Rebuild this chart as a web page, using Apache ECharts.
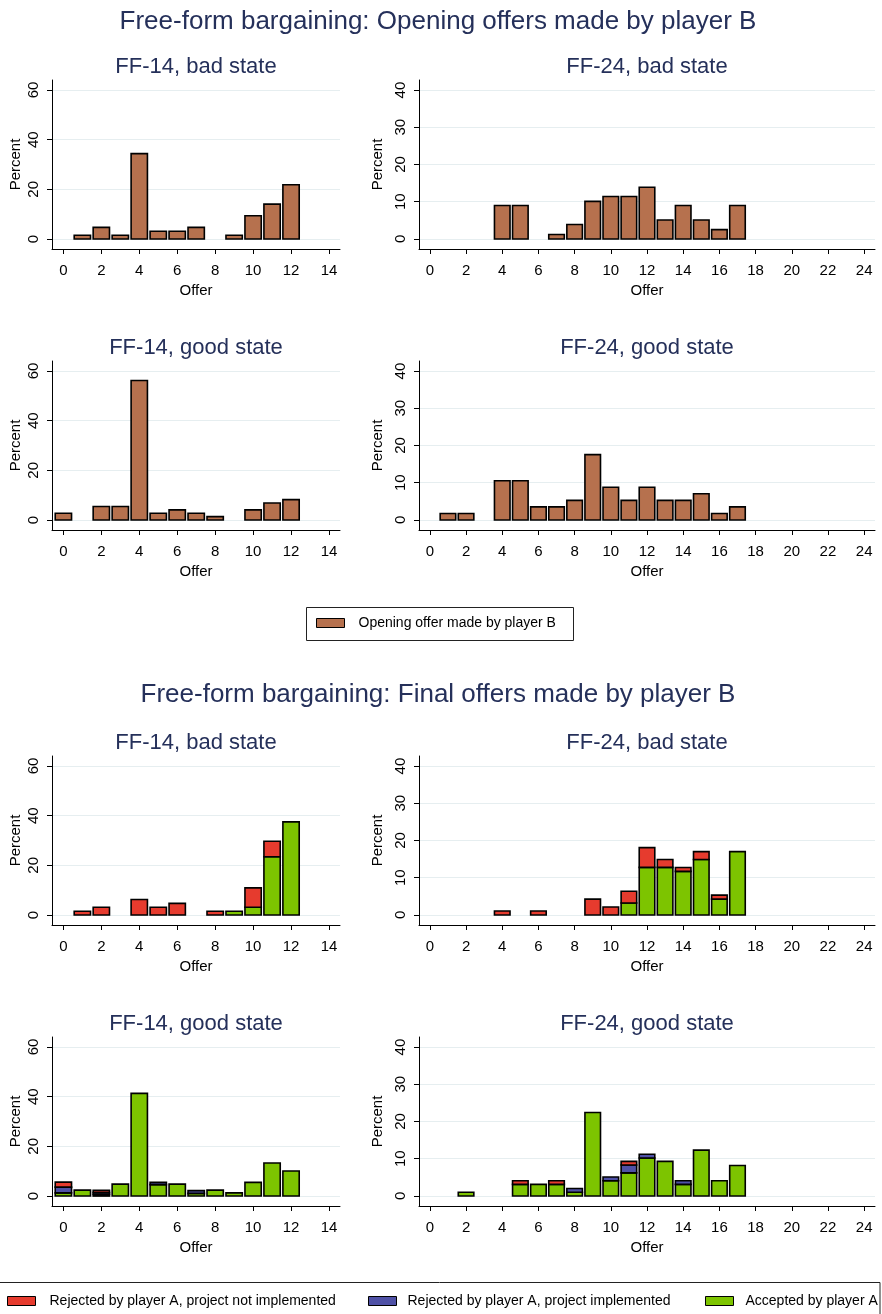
<!DOCTYPE html>
<html><head><meta charset="utf-8">
<script src="https://cdn.jsdelivr.net/npm/echarts@6/dist/echarts.min.js"></script>
<style>html,body{margin:0;padding:0;background:#fff}#c{width:882px;height:1314px}</style>
</head><body><div id="c"></div>
<script>
// ---------- data ----------
const mainTitles = ['Free-form bargaining: Opening offers made by player B', 'Free-form bargaining: Final offers made by player B'];
const panelTitles = ['FF-14, bad state', 'FF-24, bad state', 'FF-14, good state', 'FF-24, good state'];
const offers14 = [0,1,2,3,4,5,6,7,8,9,10,11,12];
const offers24 = [0,1,2,3,4,5,6,7,8,9,10,11,12,13,14,15,16,17];
const xTicks14 = [0,2,4,6,8,10,12,14];
const xTicks24 = [0,2,4,6,8,10,12,14,16,18,20,22,24];
const yTicks14 = [0,20,40,60];
const yTicks24 = [0,10,20,30,40];
const seriesNames = ['Opening offer made by player B', 'Rejected by player A, project not implemented', 'Rejected by player A, project implemented', 'Accepted by player A'];

// Opening offers (percent), indexed by offer
const open14Bad  = [0, 1.56, 4.69, 1.56, 34.38, 3.13, 3.13, 4.69, 0, 1.56, 9.38, 14.06, 21.88];
const open14Good = [2.74, 0, 5.48, 5.48, 56.16, 2.74, 4.11, 2.74, 1.37, 0, 4.11, 6.85, 8.22];
const open24Bad  = [0, 0, 0, 0, 9.0, 9.0, 0, 1.2, 3.9, 10.1, 11.4, 11.4, 13.9, 5.1, 9.0, 5.1, 2.5, 9.0];
const open24Good = [0, 1.75, 1.75, 0, 10.53, 10.53, 3.51, 3.51, 5.26, 17.54, 8.77, 5.26, 8.77, 5.26, 5.26, 7.02, 1.75, 3.51];

// Final offers (percent), indexed by offer
const acc14Bad     = [0, 0, 0, 0, 0, 0, 0, 0, 0, 1.56, 3.13, 23.44, 37.5];
const rejImp14Bad  = [0, 0, 0, 0, 0, 0, 0, 0, 0, 0, 0, 0, 0];
const rejNot14Bad  = [0, 1.56, 3.13, 0, 6.25, 3.13, 4.69, 0, 1.56, 0, 7.81, 6.25, 0];

const acc24Bad     = [0, 0, 0, 0, 0, 0, 0, 0, 0, 0, 0, 3.19, 12.77, 12.77, 11.70, 14.89, 4.26, 17.02];
const rejImp24Bad  = [0, 0, 0, 0, 0, 0, 0, 0, 0, 0, 0, 0, 0, 0, 0, 0, 0, 0];
const rejNot24Bad  = [0, 0, 0, 0, 1.06, 0, 1.06, 0, 0, 4.26, 2.13, 3.19, 5.32, 2.13, 1.06, 2.13, 1.06, 0];

const acc14Good    = [1.3, 2.4, 0.6, 4.8, 41.3, 4.6, 4.8, 1.1, 2.4, 1.3, 5.5, 13.3, 10.1];
const rejImp14Good = [2.3, 0, 0.8, 0, 0, 0.9, 0, 1.1, 0, 0, 0, 0, 0];
const rejNot14Good = [2.0, 0, 0.9, 0, 0, 0, 0, 0, 0, 0, 0, 0, 0];

const acc24Good    = [0, 0, 1.0, 0, 0, 3.1, 3.1, 3.1, 1.0, 22.4, 4.1, 6.2, 10.2, 9.3, 3.1, 12.3, 4.1, 8.2];
const rejImp24Good = [0, 0, 0, 0, 0, 0, 0, 0, 1.0, 0, 1.0, 2.1, 1.0, 0, 1.0, 0, 0, 0];
const rejNot24Good = [0, 0, 0, 0, 0, 1.0, 0, 1.0, 0, 0, 0, 1.0, 0, 0, 0, 0, 0, 0];

// ---------- styling ----------
const FONT = '"Liberation Sans", Arial, sans-serif';
const TITLE_COLOR = '#25305a';
const colors = {};
colors[seriesNames[0]] = '#b6714e';
colors[seriesNames[1]] = '#e63b2e';
colors[seriesNames[2]] = '#4f51a6';
colors[seriesNames[3]] = '#7dc400';

const rowTops = [80, 361, 756, 1037];
const GRID_H = 169;
const colLeft = [52, 419];
const colWidth = [288, 456];
const HALF = 0.43;

const panels = [
  {wide: false, stacks: [[seriesNames[0], open14Bad]]},
  {wide: true,  stacks: [[seriesNames[0], open24Bad]]},
  {wide: false, stacks: [[seriesNames[0], open14Good]]},
  {wide: true,  stacks: [[seriesNames[0], open24Good]]},
  {wide: false, stacks: [[seriesNames[3], acc14Bad], [seriesNames[2], rejImp14Bad], [seriesNames[1], rejNot14Bad]]},
  {wide: true,  stacks: [[seriesNames[3], acc24Bad], [seriesNames[2], rejImp24Bad], [seriesNames[1], rejNot24Bad]]},
  {wide: false, stacks: [[seriesNames[3], acc14Good], [seriesNames[2], rejImp14Good], [seriesNames[1], rejNot14Good]]},
  {wide: true,  stacks: [[seriesNames[3], acc24Good], [seriesNames[2], rejImp24Good], [seriesNames[1], rejNot24Good]]}
];

function renderBar(params, api) {
  const x = api.value(0), y0 = api.value(1), y1 = api.value(2);
  const p0 = api.coord([x - HALF, y0]);
  const p1 = api.coord([x + HALF, y1]);
  return {
    type: 'rect',
    shape: {x: p0[0], y: p1[1], width: p1[0] - p0[0], height: p0[1] - p1[1]},
    style: {fill: api.visual('color'), stroke: '#000', lineWidth: 1.6}
  };
}

const grids = [], xAxes = [], yAxes = [], series = [], graphics = [];

panels.forEach((p, i) => {
  const row = Math.floor(i / 2), col = i % 2;
  const left = colLeft[col], width = colWidth[col], top = rowTops[row];
  grids.push({left: left, top: top, width: width, height: GRID_H});
  const xt = p.wide ? xTicks24 : xTicks14;
  const yt = p.wide ? yTicks24 : yTicks14;
  xAxes.push({
    type: 'value', gridIndex: i,
    min: -0.6, max: p.wide ? 24.6 : 14.58,
    name: 'Offer', nameLocation: 'middle', nameGap: 34,
    nameTextStyle: {fontSize: 15, color: '#000', fontFamily: FONT},
    axisLine: {onZero: false, lineStyle: {color: '#000', width: 1}},
    axisTick: {length: 5, lineStyle: {color: '#000'}, customValues: xt},
    axisLabel: {fontSize: 15, color: '#000', fontFamily: FONT, margin: 14, customValues: xt},
    splitLine: {show: false}
  });
  yAxes.push({
    type: 'value', gridIndex: i,
    min: p.wide ? -2.7 : -4, max: p.wide ? 42.7 : 64,
    name: 'Percent', nameLocation: 'middle', nameGap: 29,
    nameTextStyle: {fontSize: 15, color: '#000', fontFamily: FONT},
    axisLine: {onZero: false, lineStyle: {color: '#000', width: 1}},
    axisTick: {length: 5, lineStyle: {color: '#000'}, customValues: yt},
    axisLabel: {fontSize: 15, color: '#000', fontFamily: FONT, margin: 11, rotate: 90, customValues: yt},
    splitLine: {show: true, lineStyle: {color: '#e6eef0', width: 1}}
  });
  const offs = p.wide ? offers24 : offers14;
  const base = offs.map(() => 0);
  p.stacks.forEach(([name, vals]) => {
    const data = [];
    offs.forEach((o, k) => {
      const v = vals[k] || 0;
      if (v > 0) {
        data.push([o, base[k], base[k] + v]);
        base[k] += v;
      }
    });
    series.push({
      type: 'custom', name: name, xAxisIndex: i, yAxisIndex: i,
      renderItem: renderBar,
      encode: {x: 0, y: [1, 2]},
      itemStyle: {color: colors[name], borderColor: '#000', borderWidth: 1},
      data: data, silent: true, animation: false
    });
  });
  graphics.push({
    type: 'text', x: left + width / 2, y: top - 13,
    style: {text: panelTitles[i % 4], fontSize: 22, fontFamily: FONT, fill: TITLE_COLOR, align: 'center', verticalAlign: 'middle'}
  });
});

graphics.push({type: 'text', x: 438, y: 22, style: {text: mainTitles[0], fontSize: 26, fontFamily: FONT, fill: TITLE_COLOR, align: 'center', verticalAlign: 'middle'}});
graphics.push({type: 'text', x: 438, y: 695, style: {text: mainTitles[1], fontSize: 26, fontFamily: FONT, fill: TITLE_COLOR, align: 'center', verticalAlign: 'middle'}});
graphics.push({type: 'rect', shape: {x: 306.5, y: 607.5, width: 267, height: 33}, style: {fill: 'none', stroke: '#222', lineWidth: 1}, z: -1});
graphics.push({type: 'rect', shape: {x: -1, y: 1282.5, width: 881, height: 40}, style: {fill: 'none', stroke: '#222', lineWidth: 1}, z: -1});

function mkLegend(name, left, top, gap) {
  return {
    data: [{name: name, icon: 'rect', itemStyle: {color: colors[name], borderColor: '#000', borderWidth: 1}}],
    left: left, top: top, padding: 0, itemWidth: 28, itemHeight: 9,
    selectedMode: false,
    textStyle: {fontSize: 14, color: '#000', fontFamily: FONT, padding: [0, 0, 0, gap]}
  };
}

const option = {
  backgroundColor: '#fff',
  animation: false,
  grid: grids, xAxis: xAxes, yAxis: yAxes, series: series,
  legend: [
    mkLegend(seriesNames[0], 316, 616, 9),
    mkLegend(seriesNames[1], 7, 1294, 9),
    mkLegend(seriesNames[2], 368, 1294, 6),
    mkLegend(seriesNames[3], 705, 1294, 7)
  ],
  graphic: graphics
};

const chart = echarts.init(document.getElementById('c'), null, {renderer: 'canvas'});
chart.setOption(option);
</script></body></html>
